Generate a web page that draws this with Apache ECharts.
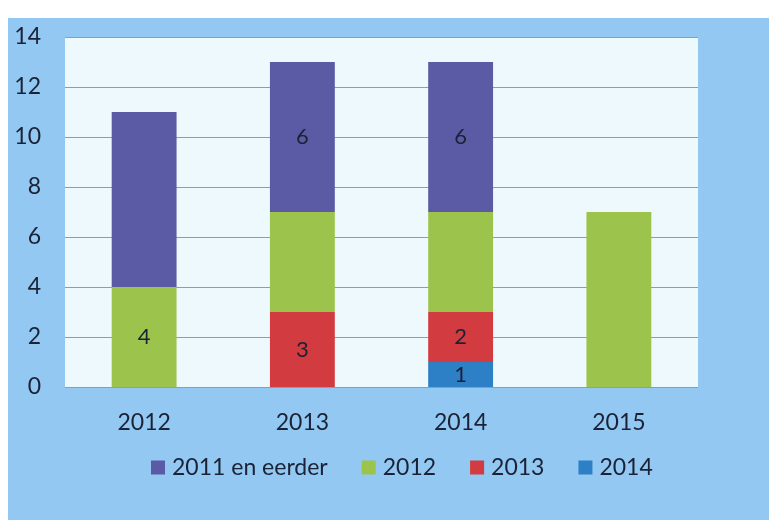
<!DOCTYPE html>
<html>
<head>
<meta charset="utf-8">
<script src="https://cdn.jsdelivr.net/npm/echarts@6/dist/echarts.min.js"></script>
<style>
  html, body { margin: 0; padding: 0; background: #fff; }
  #chart { width: 769px; height: 520px; }
</style>
</head>
<body>
<div id="chart"></div>
<script>
const categories = ['2012', '2013', '2014', '2015']
const seriesNames = ['2011 en eerder', '2012', '2013', '2014']
const eerder2011 = [7, 6, 6, 0]
const jaar2012 = [4, 4, 4, 7]
const jaar2013 = [0, 3, 2, 0]
const jaar2014 = [0, 0, 1, 0]
// which segments carry a value label in the original
const labelEerder = [false, true, true, false]
const label2012 = [true, false, false, false]
const label2013 = [false, true, true, false]
const label2014 = [false, false, true, false]
const yTicks = [0, 2, 4, 6, 8, 10, 12, 14]

const font = 'Lato, sans-serif'
const textColor = '#1b2236'

const colors = {
  eerder: '#5a5ba4',
  j2012: '#9cc34b',
  j2013: '#d23b40',
  j2014: '#2d7fc6'
}

function items (values, shown) {
  return values.map((v, i) => ({
    value: v === 0 ? null : v,
    label: { show: shown[i] }
  }))
}

function barSeries (name, values, shown, color) {
  return {
    name: name,
    type: 'bar',
    stack: 'total',
    barWidth: '41%',
    itemStyle: { color: color },
    label: {
      position: 'inside',
      color: textColor,
      fontFamily: font,
      fontSize: 22
    },
    data: items(values, shown)
  }
}

const option = {
  animation: false,
  backgroundColor: '#ffffff',
  graphic: [{
    type: 'rect',
    z: -10,
    shape: { x: 8, y: 18, width: 761, height: 502 },
    style: { fill: '#92c8f1' }
  }],
  grid: {
    left: 65,
    right: 71,
    top: 37,
    bottom: 133,
    show: true,
    backgroundColor: '#eef9fd',
    borderWidth: 0
  },
  legend: {
    left: 146,
    top: 451,
    itemWidth: 14,
    itemHeight: 14,
    itemGap: 34,
    icon: 'rect',
    data: seriesNames,
    textStyle: { color: textColor, fontFamily: font, fontSize: 23, padding: [0, 0, 0, 2] }
  },
  xAxis: {
    type: 'category',
    data: categories,
    axisLine: { show: false },
    axisTick: { show: false },
    axisLabel: { color: textColor, fontFamily: font, fontSize: 23, margin: 24 }
  },
  yAxis: {
    type: 'value',
    min: yTicks[0],
    max: yTicks[yTicks.length - 1],
    interval: 2,
    axisLine: { show: false },
    axisTick: { show: false },
    axisLabel: {
      color: textColor,
      fontFamily: font,
      fontSize: 23,
      align: 'right',
      margin: 24
    },
    splitLine: { lineStyle: { color: '#9a9a9a', width: 1.2 } }
  },
  series: [
    barSeries(seriesNames[3], jaar2014, label2014, colors.j2014),
    barSeries(seriesNames[2], jaar2013, label2013, colors.j2013),
    barSeries(seriesNames[1], jaar2012, label2012, colors.j2012),
    barSeries(seriesNames[0], eerder2011, labelEerder, colors.eerder)
  ]
}

const chart = echarts.init(document.getElementById('chart'))
chart.setOption(option)
</script>
</body>
</html>
